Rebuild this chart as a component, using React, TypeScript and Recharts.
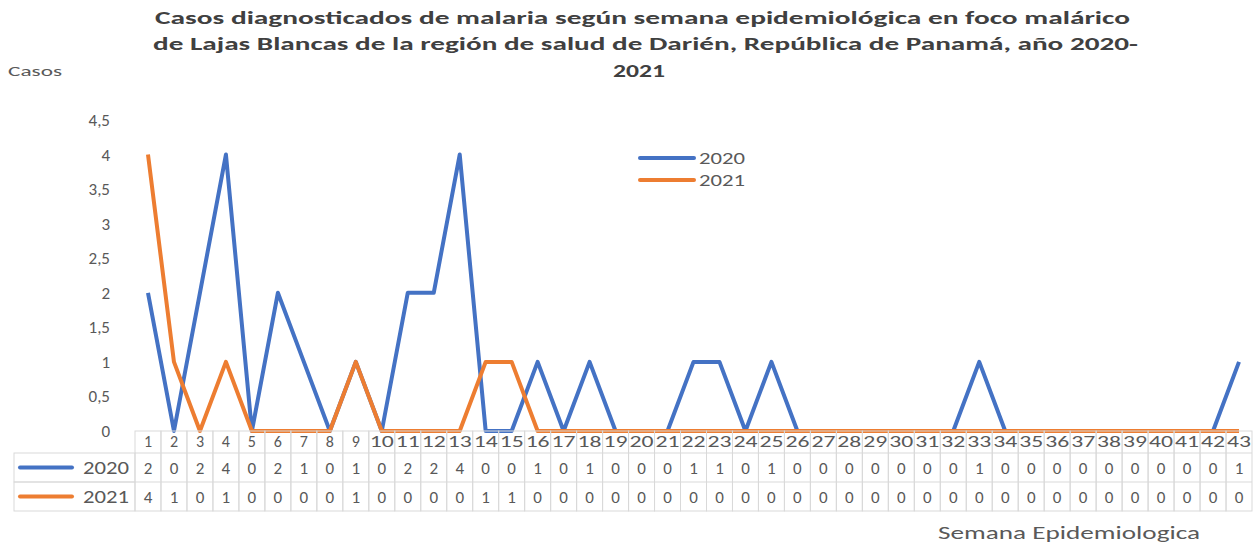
import { LineChart, Line, XAxis, YAxis } from 'recharts';

const weeks = ['1','2','3','4','5','6','7','8','9','10','11','12','13','14','15','16','17','18','19','20','21','22','23','24','25','26','27','28','29','30','31','32','33','34','35','36','37','38','39','40','41','42','43'];
const cases2020 = [2,0,2,4,0,2,1,0,1,0,2,2,4,0,0,1,0,1,0,0,0,1,1,0,1,0,0,0,0,0,0,0,1,0,0,0,0,0,0,0,0,0,1];
const cases2021 = [4,1,0,1,0,0,0,0,1,0,0,0,0,1,1,0,0,0,0,0,0,0,0,0,0,0,0,0,0,0,0,0,0,0,0,0,0,0,0,0,0,0,0];
const yTicks = [0, 0.5, 1, 1.5, 2, 2.5, 3, 3.5, 4, 4.5];
const seriesNames = ['2020', '2021'];

const BLUE = '#4472C4';
const ORANGE = '#ED7D31';
const TEXT = '#595959';
const GRID = '#d9d9d9';
const FONT = 'Calibri, Carlito, "Open Sans", sans-serif';

const data = weeks.map((w, i) => ({ week: w, y2020: cases2020[i], y2021: cases2021[i] }));

const W = 1256;
const H = 545;
const PLOT_LEFT = 135;
const PLOT_RIGHT = 4;
const STEP = (W - PLOT_LEFT - PLOT_RIGHT) / weeks.length;
const HEAD_H = 22;
const ROW_H = 29;

// draws one column of the data table under the axis
const TableTick = (props: any) => {
  const { x, y, payload } = props;
  const i = payload.index;
  const left = x - STEP / 2;
  const top = y;
  const rows = [cases2020[i], cases2021[i]];
  return (
    <g>
      <rect x={left} y={top} width={STEP} height={HEAD_H + ROW_H * 2} fill="none" stroke={GRID} strokeWidth={1} />
      <line x1={left} x2={left + STEP} y1={top + HEAD_H} y2={top + HEAD_H} stroke={GRID} />
      <line x1={left} x2={left + STEP} y1={top + HEAD_H + ROW_H} y2={top + HEAD_H + ROW_H} stroke={GRID} />
      <text x={x} y={top + HEAD_H / 2 + 5} textAnchor="middle" fontSize={16} fill={TEXT} fontFamily={FONT}
        textLength={payload.value.length > 1 ? STEP - 2 : undefined} lengthAdjust="spacingAndGlyphs">
        {payload.value}
      </text>
      {rows.map((v, r) => (
        <text key={r} x={x} y={top + HEAD_H + ROW_H * r + ROW_H / 2 + 6} textAnchor="middle" fontSize={17} fill={TEXT} fontFamily={FONT}>
          {v}
        </text>
      ))}
      {i === 0 && (
        <g>
          {seriesNames.map((name, r) => {
            const ry = top + HEAD_H + ROW_H * r;
            return (
              <g key={name}>
                <rect x={14} y={ry} width={left - 14} height={ROW_H} fill="none" stroke={GRID} />
                <line x1={20} x2={72} y1={ry + ROW_H / 2} y2={ry + ROW_H / 2} stroke={r === 0 ? BLUE : ORANGE} strokeWidth={4} strokeLinecap="round" />
                <text x={left - 6} y={ry + ROW_H / 2 + 6} textAnchor="end" fontSize={18} fill={TEXT} fontFamily={FONT}
                  textLength={46} lengthAdjust="spacingAndGlyphs">{name}</text>
              </g>
            );
          })}
        </g>
      )}
    </g>
  );
};

export default function App() {
  return (
    <div style={{ position: 'absolute', left: 0, top: 0, width: W, height: H, background: '#fff' }}>
      <svg width={W} height={H} style={{ position: 'absolute', left: 0, top: 0 }}>
        <g fontFamily={FONT} fontWeight="bold" fill="#404040" fontSize={18} style={{ whiteSpace: 'pre' }}>
          <text x={155} y={24} textLength={975} lengthAdjust="spacingAndGlyphs">Casos diagnosticados de malaria según semana epidemiológica en foco malárico</text>
          <text x={153} y={50} textLength={985} lengthAdjust="spacingAndGlyphs">de Lajas Blancas de la región de salud de Darién, República de Panamá,  año 2020-</text>
          <text x={613} y={77} textLength={52} lengthAdjust="spacingAndGlyphs">2021</text>
        </g>
        <text x={8} y={76} fontFamily={FONT} fontSize={15} fill={TEXT} textLength={54} lengthAdjust="spacingAndGlyphs">Casos</text>
        <text x={938} y={539} fontFamily={FONT} fontSize={18} fill={TEXT} textLength={262} lengthAdjust="spacingAndGlyphs">Semana Epidemiologica</text>
        {seriesNames.map((name, r) => (
          <g key={name}>
            <line x1={640} x2={694} y1={158 + r * 22} y2={158 + r * 22} stroke={r === 0 ? BLUE : ORANGE} strokeWidth={4} strokeLinecap="round" />
            <text x={699} y={164 + r * 22} fontFamily={FONT} fontSize={17} fill={TEXT} textLength={46} lengthAdjust="spacingAndGlyphs">{name}</text>
          </g>
        ))}
      </svg>
      <div style={{ position: 'absolute', left: 0, top: 0 }}>
        <LineChart width={W} height={H} data={data} margin={{ top: 120, right: PLOT_RIGHT, bottom: 0, left: 0 }}>
          <XAxis dataKey="week" height={114} padding={{ left: STEP / 2, right: STEP / 2 }} axisLine={false} tickLine={false}
            tickSize={0} tickMargin={0} interval={0} tick={<TableTick />} />
          <YAxis width={PLOT_LEFT} domain={[0, 4.5]} ticks={yTicks} axisLine={false} tickLine={false} tickSize={0} tickMargin={25}
            tick={{ fill: TEXT, fontSize: 17, fontFamily: FONT }} tickFormatter={(v: number) => String(v).replace('.', ',')} />
          <Line dataKey="y2020" name="2020" stroke={BLUE} strokeWidth={4} dot={false} isAnimationActive={false} strokeLinejoin="round" />
          <Line dataKey="y2021" name="2021" stroke={ORANGE} strokeWidth={4} dot={false} isAnimationActive={false} strokeLinejoin="round" />
        </LineChart>
      </div>
    </div>
  );
}
